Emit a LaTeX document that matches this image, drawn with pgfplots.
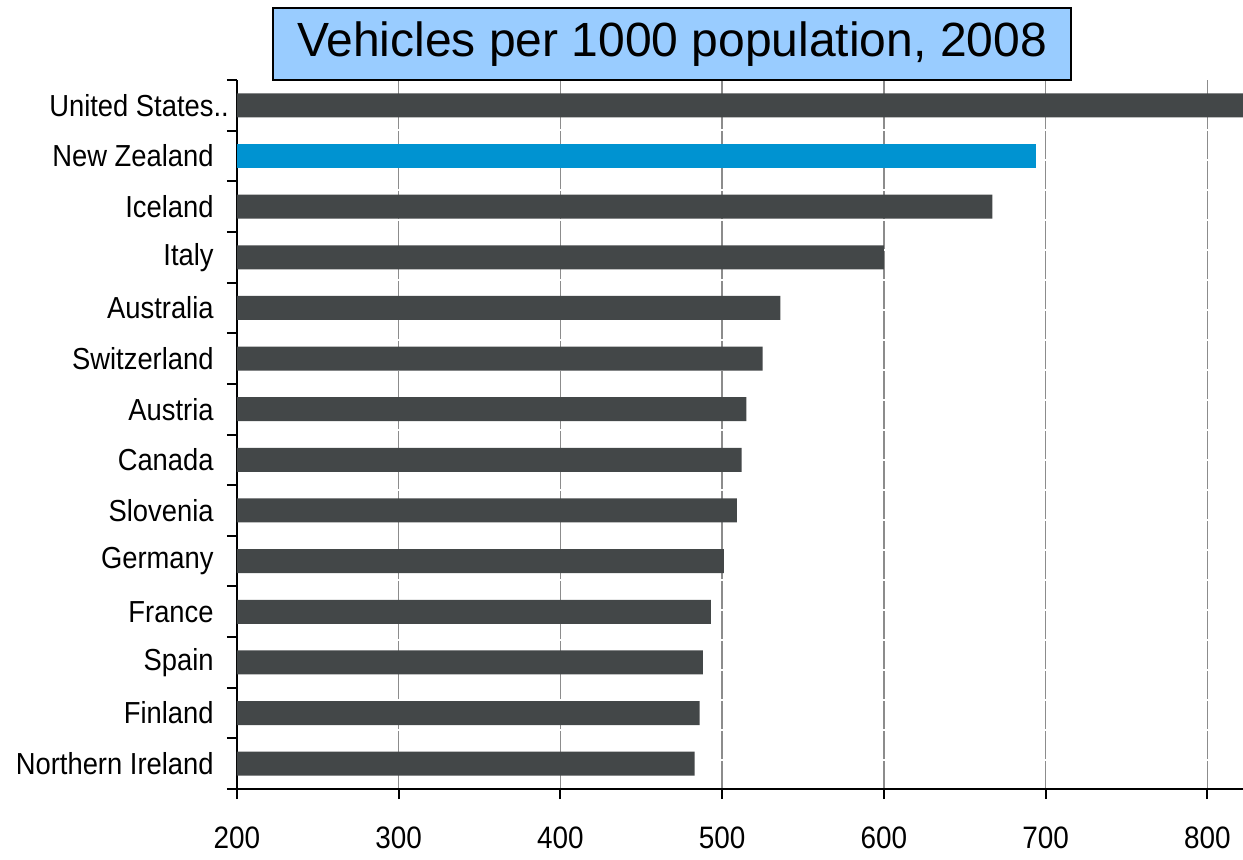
\documentclass[border=0pt]{standalone}
\usepackage{fontspec}
\setmainfont{Liberation Sans}
\newfontfamily\narrow[FakeStretch=0.9]{Liberation Sans}
\usepackage{pgfplots}
\pgfplotsset{compat=1.18}
\definecolor{bardark}{HTML}{434748}
\definecolor{barblue}{HTML}{0093D1}
\definecolor{titlefill}{HTML}{99CCFF}
\definecolor{gridgray}{HTML}{8C8C8C}
\begin{document}
\begin{tikzpicture}
\begin{axis}[
  at={(0pt,0pt)}, anchor=south west,
  scale only axis,
  width=503pt, height=354.5pt,
  xmin=200, xmax=822,
  ymin=-0.5, ymax=13.5,
  xbar, bar width=12pt, bar shift=0pt,
  axis x line*=bottom, axis y line*=left,
  axis line style={-, black, line width=1pt},
  xtick={200,300,...,800},
  ytick={0,...,13},
  yticklabels={Northern Ireland,Finland,Spain,France,Germany,Slovenia,Canada,Austria,Switzerland,Australia,Italy,Iceland,New Zealand,United States\rlap{..}},
  minor ytick={-0.5,0.5,...,13.5},
  tick align=outside,
  major tick length=5pt,
  minor tick length=5pt,
  y tick style={draw=none},
  minor y tick style={draw=black, line width=1pt},
  x tick style={draw=black, line width=1pt},
  xmajorgrids=true,
  major grid style={draw=gridgray, line width=0.75pt, dash pattern=on 14pt off 1pt},
  /pgf/number format/assume math mode=true,
  xticklabel style={font=\narrow\fontsize{15.5}{18}\selectfont, anchor=center, inner sep=0pt, yshift=-19.5pt},
  yticklabel style={font=\narrow\fontsize{15.2}{18}\selectfont, anchor=east, inner sep=0pt, xshift=-6.5pt},
  scaled x ticks=false,
  clip=true,
]
\addplot[fill=bardark, draw=none] coordinates {
  (483,0) (486,1) (488,2) (493,3) (501,4) (509,5) (512,6) (515,7) (525,8) (536,9) (600,10) (667,11) (822,13)
};
\addplot[fill=barblue, draw=none] coordinates {(694,12)};
\end{axis}
\node[draw=black, line width=0.75pt, fill=titlefill, minimum width=399pt, minimum height=36pt, inner sep=0pt,
  font=\fontsize{24}{28}\selectfont] at (217.5pt,372.5pt) {Vehicles per 1000 population, 2008};
\pgfresetboundingbox
\path (-118.5pt,-35pt) rectangle (503pt,394.5pt);
\end{tikzpicture}
\end{document}
